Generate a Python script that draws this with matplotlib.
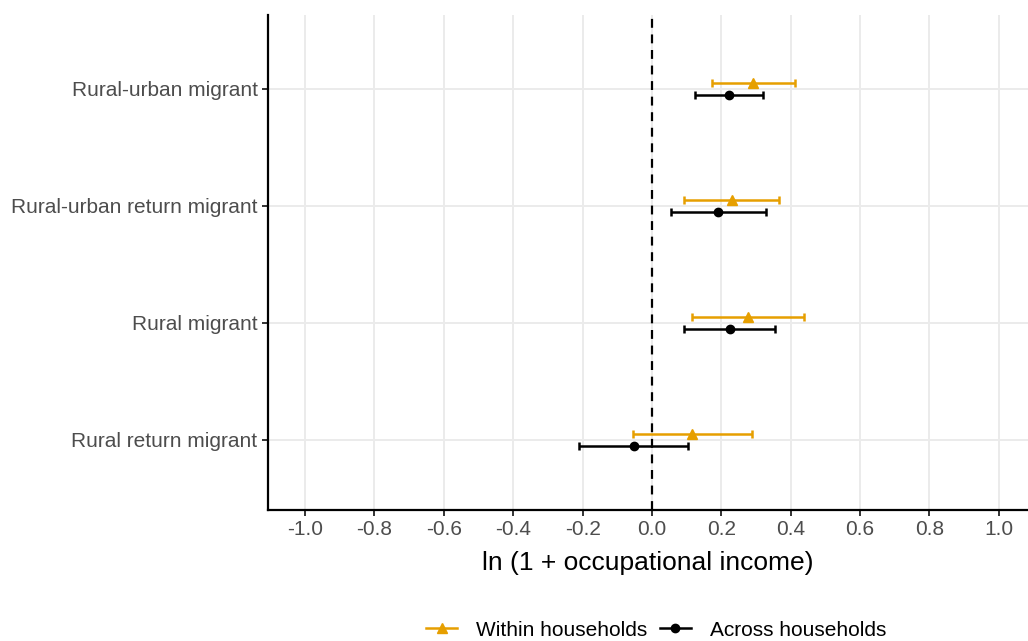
import matplotlib
matplotlib.use("Agg")
import matplotlib.pyplot as plt
from matplotlib.lines import Line2D
import numpy as np

plt.rcParams['font.family'] = ['Liberation Sans', 'DejaVu Sans']

categories = ["Rural-urban migrant", "Rural-urban return migrant", "Rural migrant", "Rural return migrant"]
within_est = [0.290, 0.231, 0.277, 0.116]
within_lo = [0.172, 0.093, 0.116, -0.056]
within_hi = [0.411, 0.367, 0.438, 0.287]
across_est = [0.222, 0.191, 0.224, -0.052]
across_lo = [0.125, 0.054, 0.092, -0.210]
across_hi = [0.319, 0.330, 0.356, 0.105]
xticks = [-1.0, -0.8, -0.6, -0.4, -0.2, 0.0, 0.2, 0.4, 0.6, 0.8, 1.0]

orange = "#E69F00"
fig = plt.figure(figsize=(10.28, 6.41), dpi=100)
ax = fig.add_axes([268/1028, 1-510/641, 1-268/1028, (510-15)/641])

n = len(categories)
ypos = np.arange(n)[::-1] + 1.0  # top category highest
dodge = 0.05

def draw(est, lo, hi, color, marker, off, ms):
    y = ypos + off
    est = np.array(est); lo = np.array(lo); hi = np.array(hi)
    ax.errorbar(est, y, xerr=[est - lo, hi - est], fmt='none', ecolor=color,
                elinewidth=1.8, capsize=3, capthick=1.8, zorder=3)
    ax.plot(est, y, linestyle='none', marker=marker, color=color, markersize=ms, zorder=4)

draw(within_est, within_lo, within_hi, orange, '^', dodge, 7.5)
draw(across_est, across_lo, across_hi, 'black', 'o', -dodge, 6)

ax.axvline(0, color='black', linestyle=(0, (4, 3)), linewidth=1.6, zorder=2)

ax.set_xlim(-1.107, 1.084)
ax.set_ylim(0.40, 4.63)
ax.set_xticks(xticks)
ax.set_xticklabels([f"{t:.1f}" for t in xticks])
ax.set_yticks(ypos)
ax.set_yticklabels(categories)
ax.grid(True, color='#ebebeb', linewidth=1.4)
ax.set_axisbelow(True)
for s in ['top', 'right']:
    ax.spines[s].set_visible(False)
for s in ['left', 'bottom']:
    ax.spines[s].set_linewidth(1.6)
    ax.spines[s].set_color('black')
ax.tick_params(axis='both', colors='#333333', labelcolor='#4d4d4d', labelsize=15, length=4, width=1.4)
ax.set_xlabel("ln (1 + occupational income)", fontsize=19, color='black', labelpad=8)

handles = [
    Line2D([], [], color=orange, marker='^', markersize=7, linewidth=1.8),
    Line2D([], [], color='black', marker='o', markersize=6, linewidth=1.8),
]
fig.legend(handles, ["Within households", "Across households"], loc='center',
           bbox_to_anchor=(656/1028, 1-630/641), ncol=2, frameon=False, fontsize=15,
           handlelength=1.5, columnspacing=0.6, handletextpad=0.9)

fig.savefig("out.png", dpi=100)
